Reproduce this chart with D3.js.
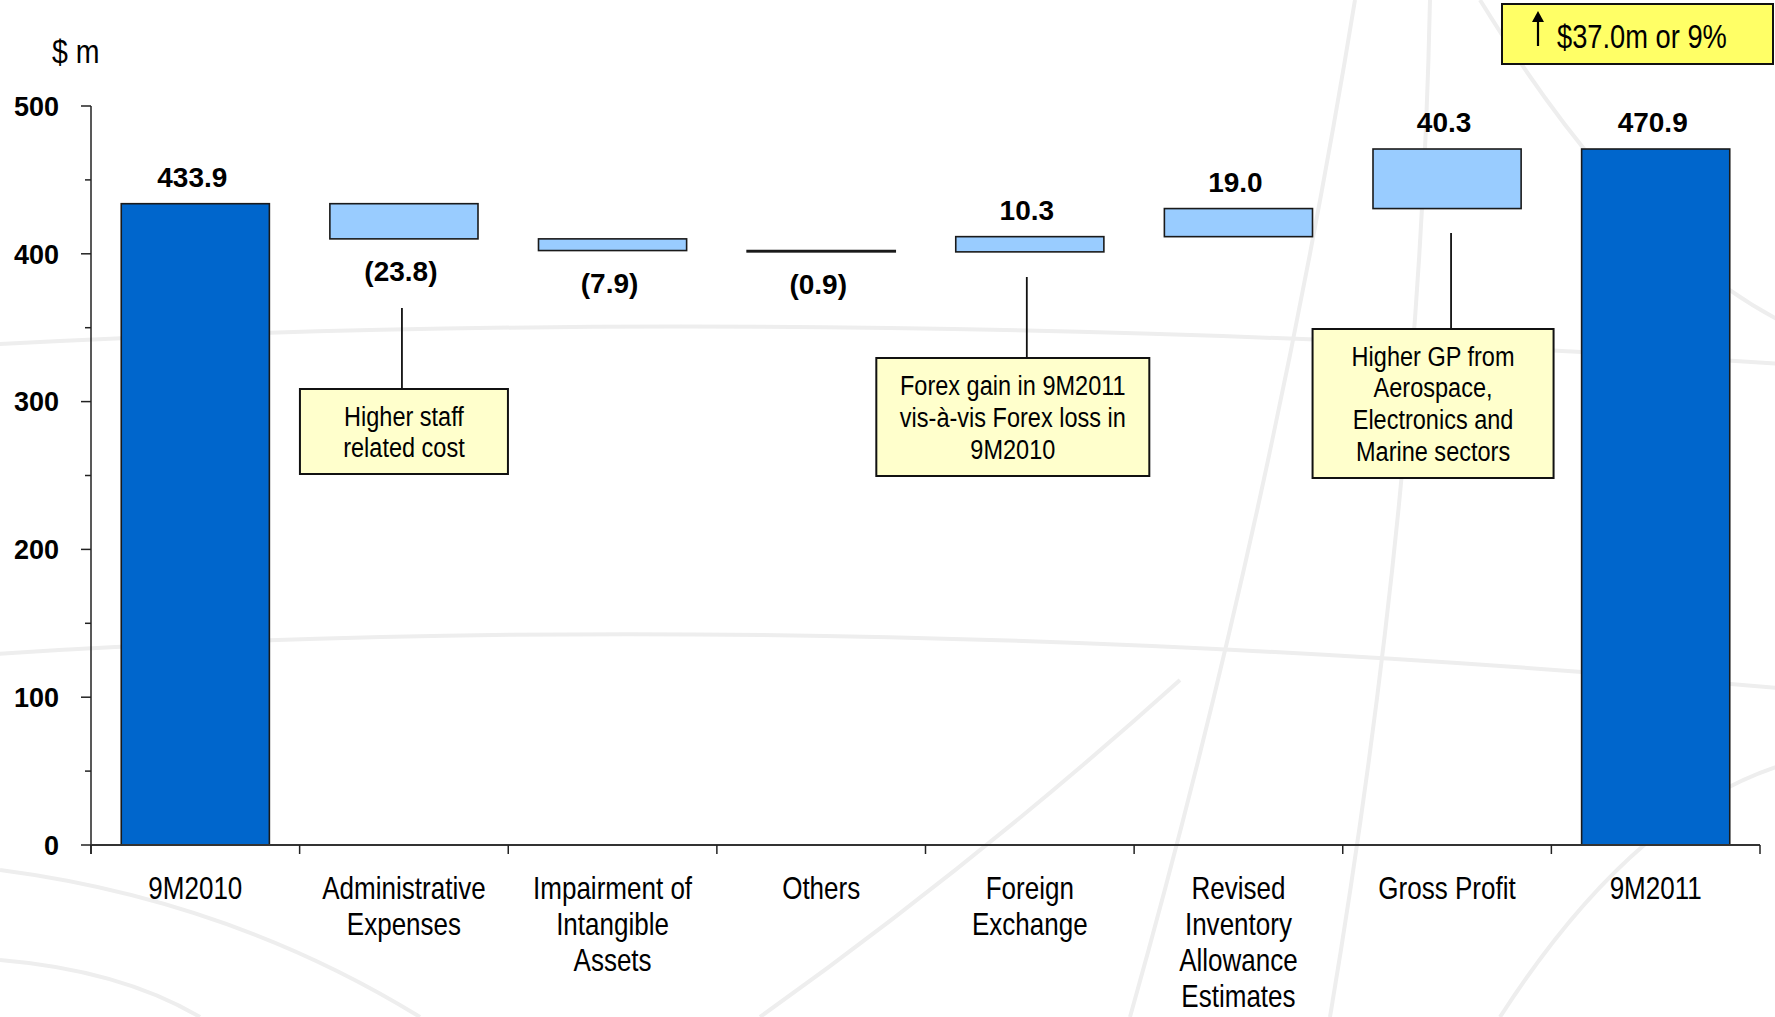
<!DOCTYPE html>
<html>
<head>
<meta charset="utf-8">
<script src="https://cdnjs.cloudflare.com/ajax/libs/d3/7.8.5/d3.min.js"></script>
<style>
  body { margin: 0; background: #fff; }
  svg { display: block; }
</style>
</head>
<body>
<div id="chart"></div>
<script>
// Waterfall: 9M2010 -> 9M2011 bridge ($ m)

const categories = ['9M2010', 'Administrative Expenses', 'Impairment of Intangible Assets', 'Others',
    'Foreign Exchange', 'Revised Inventory Allowance Estimates', 'Gross Profit', '9M2011'];
const categoryLines = [
    ['9M2010'], ['Administrative', 'Expenses'], ['Impairment of', 'Intangible', 'Assets'], ['Others'],
    ['Foreign', 'Exchange'], ['Revised', 'Inventory', 'Allowance', 'Estimates'], ['Gross Profit'], ['9M2011']
];
// change for each step; totals carry their full value
const values = [433.9, -23.8, -7.9, -0.9, 10.3, 19.0, 40.3, 470.9];
const isTotal = [true, false, false, false, false, false, false, true];
const valueLabels = ['433.9', '(23.8)', '(7.9)', '(0.9)', '10.3', '19.0', '40.3', '470.9'];
const yTicks = [0, 100, 200, 300, 400, 500];
const yMinorTicks = [50, 150, 250, 350, 450];

const notes = [
    { cat: 'Administrative Expenses', lines: ['Higher staff', 'related cost'] },
    { cat: 'Foreign Exchange', lines: ['Forex gain in 9M2011', 'vis-à-vis Forex loss in', '9M2010'] },
    { cat: 'Gross Profit', lines: ['Higher GP from', 'Aerospace,', 'Electronics and', 'Marine sectors'] }
];
const headline = '$37.0m or 9%';

const W = 1775, H = 1017;
const SANS = "'Liberation Sans', Arial, sans-serif";
const NARROW_X = 0.84;   // Arial Narrow ~ Arial squeezed horizontally

// build waterfall steps
let running = 0;
const steps = categories.map((c, i) => {
    let lo, hi;
    if (isTotal[i]) { lo = 0; hi = values[i]; running = values[i]; }
    else { const next = running + values[i]; lo = Math.min(running, next); hi = Math.max(running, next); running = next; }
    return { cat: c, lines: categoryLines[i], lo, hi, total: isTotal[i], neg: values[i] < 0, label: valueLabels[i] };
});

const svg = d3.select('#chart').append('svg')
    .attr('width', W).attr('height', H);

// narrow text block: lines centred (or anchored) at x, first baseline at y
function narrow(parent, px, py, lines, size, lh, anchor) {
    const g = parent.append('g')
        .attr('transform', `translate(${px},${py}) scale(${NARROW_X},1)`);
    g.append('text')
        .attr('text-anchor', anchor || 'middle')
        .style('font-family', SANS).style('font-size', size + 'px')
        .selectAll('tspan').data(lines).join('tspan')
        .attr('x', 0).attr('y', (l, i) => i * lh)
        .text(l => l);
    return g;
}

// faint globe watermark in background
const deco = svg.append('g').attr('fill', 'none').attr('stroke', '#eeeeee').attr('stroke-width', 4);
[
    'M -20,345 Q 800,300 1800,365',
    'M -20,655 Q 800,600 1800,690',
    'M 1355,0 Q 1270,520 1130,1017',
    'M 1430,0 Q 1420,480 1330,1017',
    'M 1480,0 Q 1640,260 1800,330',
    'M 1500,1017 Q 1640,800 1800,760',
    'M 0,870 Q 230,900 420,1017',
    'M 0,960 Q 120,970 200,1017',
    'M 760,1017 Q 980,860 1180,680'
].forEach(d => deco.append('path').attr('d', d));

const x = d3.scaleBand()
    .domain(categories)
    .range([91, 1760])
    .paddingInner(0.29)
    .paddingOuter(0.145);

const y = d3.scaleLinear()
    .domain([0, 500])
    .range([845, 106]);

const step = x.step();

// y axis
const yAxis = svg.append('g').attr('transform', 'translate(91,0)');
yAxis.append('line')
    .attr('y1', y(500)).attr('y2', y(0) + 9)
    .attr('stroke', '#222').attr('stroke-width', 1.5);
yAxis.selectAll('.major').data(yTicks).join('line')
    .attr('x1', -10).attr('x2', 0)
    .attr('y1', d => y(d)).attr('y2', d => y(d))
    .attr('stroke', '#222').attr('stroke-width', 1.5);
yAxis.selectAll('.minor').data(yMinorTicks).join('line')
    .attr('x1', -6).attr('x2', 0)
    .attr('y1', d => y(d)).attr('y2', d => y(d))
    .attr('stroke', '#222').attr('stroke-width', 1.5);
yAxis.selectAll('text').data(yTicks).join('text')
    .attr('x', -32).attr('y', d => y(d)).attr('dy', '0.36em')
    .attr('text-anchor', 'end')
    .style('font-family', SANS).style('font-weight', 'bold').style('font-size', '27px')
    .text(d => d);

narrow(svg, 52, 63, ['$ m'], 34, 0, 'start');

// bars
svg.selectAll('.bar').data(steps).join('rect')
    .attr('class', 'bar')
    .attr('x', d => x(d.cat))
    .attr('width', x.bandwidth())
    .attr('y', d => y(d.hi))
    .attr('height', d => Math.max(0.5, y(d.lo) - y(d.hi)))
    .attr('fill', d => d.total ? '#0066CC' : '#99CCFF')
    .attr('stroke', '#1a1a1a')
    .attr('stroke-width', 1.6);

// x axis
const xAxis = svg.append('g');
xAxis.append('line')
    .attr('x1', 91).attr('x2', 1760)
    .attr('y1', y(0)).attr('y2', y(0))
    .attr('stroke', '#333').attr('stroke-width', 1.8);
xAxis.selectAll('.tick').data(d3.range(categories.length + 1)).join('line')
    .attr('x1', i => 91 + i * step).attr('x2', i => 91 + i * step)
    .attr('y1', y(0)).attr('y2', y(0) + 9)
    .attr('stroke', '#222').attr('stroke-width', 1.5);
steps.forEach(d => narrow(xAxis, x(d.cat) + x.bandwidth() / 2, 899, d.lines, 31, 36));

// value labels
svg.selectAll('.val').data(steps).join('text')
    .attr('class', 'val')
    .attr('x', d => x(d.cat) + x.bandwidth() / 2 - 3)
    .attr('y', d => d.neg ? y(d.lo) + 42 : y(d.hi) - 17)
    .attr('text-anchor', 'middle')
    .style('font-family', SANS).style('font-weight', 'bold').style('font-size', '28px')
    .text(d => d.label);

// annotation callouts: box centre offset from band centre, box width/top/bottom, leader top
const noteLayout = {
    'Administrative Expenses': { dx: 0, w: 208, top: 389, bottom: 474, lineX: -2, lineTop: 308 },
    'Foreign Exchange': { dx: -17, w: 273, top: 358, bottom: 476, lineX: -3, lineTop: 277 },
    'Gross Profit': { dx: -14, w: 241, top: 329, bottom: 478, lineX: 4, lineTop: 233 }
};
notes.forEach(n => {
    const L = noteLayout[n.cat];
    const cx = x(n.cat) + x.bandwidth() / 2;
    const bx = cx + L.dx;
    const g = svg.append('g');
    g.append('line')
        .attr('x1', cx + L.lineX).attr('x2', cx + L.lineX)
        .attr('y1', L.lineTop).attr('y2', L.top)
        .attr('stroke', '#111').attr('stroke-width', 1.8);
    g.append('rect')
        .attr('x', bx - L.w / 2).attr('y', L.top)
        .attr('width', L.w).attr('height', L.bottom - L.top)
        .attr('fill', '#FFFFCC').attr('stroke', '#111').attr('stroke-width', 2);
    const lh = 32;
    const firstBase = (L.top + L.bottom) / 2 - (n.lines.length - 1) * lh / 2 + 10;
    narrow(g, bx, firstBase, n.lines, 28, lh);
});

// headline box top right
const hb = svg.append('g');
hb.append('rect')
    .attr('x', 1502).attr('y', 4).attr('width', 271).attr('height', 60)
    .attr('fill', '#FFFF66').attr('stroke', '#111').attr('stroke-width', 2);
hb.append('line')
    .attr('x1', 1538).attr('x2', 1538).attr('y1', 46).attr('y2', 20)
    .attr('stroke', '#000').attr('stroke-width', 2.2);
hb.append('path')
    .attr('d', 'M 1532,22 L 1538,11 L 1544,22 Z')
    .attr('fill', '#000');
narrow(hb, 1557, 48, [headline], 32.5, 0, 'start');
</script>
</body>
</html>
